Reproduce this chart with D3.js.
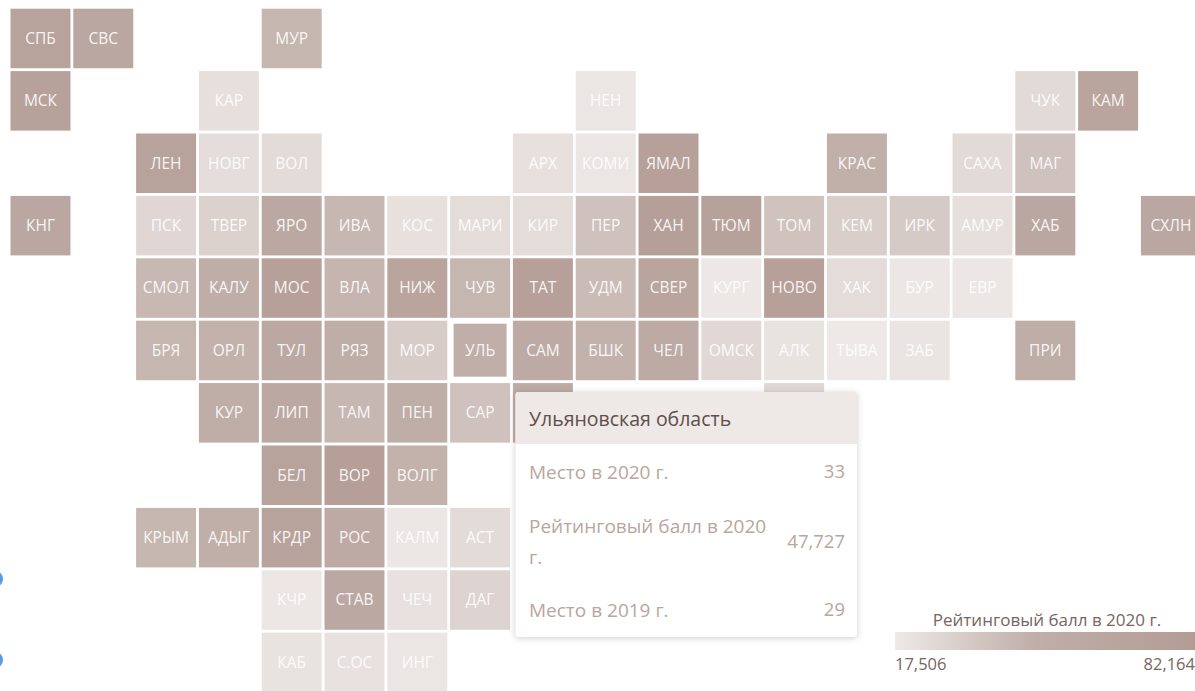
<!DOCTYPE html>
<html lang="ru">
<head>
<meta charset="utf-8">
<title>Рейтинговый балл в 2020 г.</title>
<script src="https://cdn.jsdelivr.net/npm/d3@7"></script>
<style>
    html, body { margin: 0; padding: 0; background: #fff; overflow: hidden; }
    svg { display: block; font-family: "Open Sans", sans-serif; }
    .tip-box { filter: drop-shadow(0 1px 3px rgba(90, 70, 60, 0.28)); }
</style>
</head>
<body>
<div id="chart"></div>
<script>
// region codes, their grid slot and the score
// the two unnamed cells are mostly hidden behind the tooltip
const regions = [
    "СПБ","СВС","МУР",
    "МСК","КАР","НЕН","ЧУК","КАМ",
    "ЛЕН","НОВГ","ВОЛ","АРХ","КОМИ","ЯМАЛ","КРАС","САХА","МАГ",
    "КНГ","ПСК","ТВЕР","ЯРО","ИВА","КОС","МАРИ","КИР","ПЕР","ХАН","ТЮМ","ТОМ","КЕМ","ИРК","АМУР","ХАБ","СХЛН",
    "СМОЛ","КАЛУ","МОС","ВЛА","НИЖ","ЧУВ","ТАТ","УДМ","СВЕР","КУРГ","НОВО","ХАК","БУР","ЕВР",
    "БРЯ","ОРЛ","ТУЛ","РЯЗ","МОР","УЛЬ","САМ","БШК","ЧЕЛ","ОМСК","АЛК","ТЫВА","ЗАБ","ПРИ",
    "КУР","ЛИП","ТАМ","ПЕН","САР","","",
    "БЕЛ","ВОР","ВОЛГ",
    "КРЫМ","АДЫГ","КРДР","РОС","КАЛМ","АСТ",
    "КЧР","СТАВ","ЧЕЧ","ДАГ",
    "КАБ","С.ОС","ИНГ"
]
const gridCols = [
    0,1,4,
    0,3,9,16,17,
    2,3,4,8,9,10,13,15,16,
    0,2,3,4,5,6,7,8,9,10,11,12,13,14,15,16,18,
    2,3,4,5,6,7,8,9,10,11,12,13,14,15,
    2,3,4,5,6,7,8,9,10,11,12,13,14,16,
    3,4,5,6,7,8,12,
    4,5,6,
    2,3,4,5,6,7,
    4,5,6,7,
    4,5,6
]
const gridRows = [
    0,0,0,
    1,1,1,1,1,
    2,2,2,2,2,2,2,2,2,
    3,3,3,3,3,3,3,3,3,3,3,3,3,3,3,3,3,
    4,4,4,4,4,4,4,4,4,4,4,4,4,4,
    5,5,5,5,5,5,5,5,5,5,5,5,5,5,
    6,6,6,6,6,6,6,
    7,7,7,
    8,8,8,8,8,8,
    9,9,9,9,
    10,10,10
]
const scores = [
    68900,61000,43800,
    71600,22800,19500,25400,66300,
    68900,23400,24700,22100,19500,74200,47000,25400,37800,
    61000,26700,30000,58300,43100,22100,24000,24000,37800,76900,71600,37200,31300,33300,22800,61000,61000,
    42400,50400,74200,44400,66300,43800,74200,41100,66300,17900,74200,24000,18800,18800,
    43800,45700,58300,50400,32600,47727,55700,45700,55700,26000,20800,17506,20100,50400,
    50400,58300,43100,50400,37800,55700,26000,
    68900,76900,45700,
    43800,47700,68900,55700,18800,24700,
    18800,58300,21400,28700,
    20800,21400,19500
]

const minScore = 17506
const midScore = 47727
const maxScore = 82164
const hoveredRegion = "УЛЬ"

const tipTitle = "Ульяновская область"
const tipLabels = ["Место в 2020 г.", "Рейтинговый балл в 2020", "Место в 2019 г."]
const tipValues = [33, 47727, 29]
const legendTitle = "Рейтинговый балл в 2020 г."

const config = {
    svgWidth: 1195,
    svgHeight: 691
}

const cells = regions.map((name, i) => ({
    name: name,
    col: gridCols[i],
    row: gridRows[i],
    score: scores[i]
}))

const xScale = d3.scaleBand().domain(d3.range(19)).range([10.5, 1200.9]).paddingInner(0.045)
const yScale = d3.scaleBand().domain(d3.range(11)).range([8.7, 692.2]).paddingInner(0.046)
const colorScale = d3.scaleLinear()
    .domain([minScore, midScore, maxScore])
    .range(["#eee9e7", "#c0aea8", "#b39c95"])
const fmt = d3.format(",")

const svg = d3.select("#chart")
    .append("svg")
    .attr("width", config.svgWidth)
    .attr("height", config.svgHeight)
    .style("background", "#fff")

// the two cut off blue dots at the left edge of the screenshot
svg.selectAll("circle.edge")
    .data([579, 660])
    .enter()
    .append("circle")
    .attr("class", "edge")
    .attr("cx", -5)
    .attr("cy", d => d)
    .attr("r", 8)
    .attr("fill", "#5b9be6")

const cell = svg.selectAll("g.cell")
    .data(cells)
    .enter()
    .append("g")
    .attr("class", "cell")
    .attr("transform", d => `translate(${xScale(d.col)},${yScale(d.row)})`)

cell.append("rect")
    .attr("x", d => d.name === hoveredRegion ? 3.5 : 0)
    .attr("y", d => d.name === hoveredRegion ? 3 : 0)
    .attr("width", d => d.name === hoveredRegion ? 53 : xScale.bandwidth())
    .attr("height", d => d.name === hoveredRegion ? 53 : yScale.bandwidth())
    .attr("fill", d => colorScale(d.score))

cell.append("text")
    .attr("x", xScale.bandwidth() / 2)
    .attr("y", yScale.bandwidth() / 2)
    .attr("dy", "0.35em")
    .attr("text-anchor", "middle")
    .attr("font-size", 15.5)
    .attr("fill", "#fff")
    .attr("fill-opacity", 0.9)
    .text(d => d.name)

// tooltip of the hovered region
const tip = svg.append("g").attr("transform", "translate(515.5,392)")
tip.append("rect")
    .attr("class", "tip-box")
    .attr("width", 341.5)
    .attr("height", 245)
    .attr("rx", 3)
    .attr("fill", "#fff")
tip.append("path")
    .attr("d", "M0,52V3a3,3 0 0 1 3,-3H338.5a3,3 0 0 1 3,3V52Z")
    .attr("fill", "#eee9e7")
tip.append("text")
    .attr("x", 13.5)
    .attr("y", 27)
    .attr("dy", "0.35em")
    .attr("font-size", 19.5)
    .attr("fill", "#5f4e49")
    .text(tipTitle)

const tipY = d3.scalePoint().domain(d3.range(3)).range([80, 218])
tip.selectAll("text.tip-label")
    .data(tipLabels)
    .enter()
    .append("text")
    .attr("class", "tip-label")
    .attr("x", 13.5)
    .attr("y", (d, i) => i === 1 ? 134 : tipY(i))
    .attr("dy", "0.35em")
    .attr("font-size", 19)
    .attr("fill", "#b8a6a0")
    .text(d => d)
tip.append("text")
    .attr("x", 13.5)
    .attr("y", 165)
    .attr("dy", "0.35em")
    .attr("font-size", 19)
    .attr("fill", "#b8a6a0")
    .text("г.")
tip.selectAll("text.tip-value")
    .data(tipValues)
    .enter()
    .append("text")
    .attr("class", "tip-value")
    .attr("x", 329.5)
    .attr("y", (d, i) => i === 1 ? 150 : tipY(i))
    .attr("dy", "0.35em")
    .attr("text-anchor", "end")
    .attr("font-size", 18.5)
    .attr("fill", "#b8a6a0")
    .text(d => fmt(d))

// colour legend
const legendScale = d3.scaleLinear().domain([minScore, maxScore]).range([895, 1195])
const gradient = svg.append("defs")
    .append("linearGradient")
    .attr("id", "legend-gradient")
gradient.selectAll("stop")
    .data(colorScale.domain())
    .enter()
    .append("stop")
    .attr("offset", d => (d - minScore) / (maxScore - minScore))
    .attr("stop-color", d => colorScale(d))

svg.append("rect")
    .attr("x", legendScale(minScore))
    .attr("y", 632)
    .attr("width", legendScale(maxScore) - legendScale(minScore))
    .attr("height", 18)
    .attr("fill", "url(#legend-gradient)")
svg.append("text")
    .attr("x", 1047)
    .attr("y", 620)
    .attr("dy", "0.35em")
    .attr("text-anchor", "middle")
    .attr("font-size", 17)
    .attr("fill", "#77655f")
    .text(legendTitle)
svg.selectAll("text.legend-tick")
    .data([minScore, maxScore])
    .enter()
    .append("text")
    .attr("class", "legend-tick")
    .attr("x", d => legendScale(d))
    .attr("y", 664)
    .attr("dy", "0.35em")
    .attr("text-anchor", d => d === minScore ? "start" : "end")
    .attr("font-size", 16.5)
    .attr("fill", "#77655f")
    .text(d => fmt(d))
</script>
</body>
</html>
